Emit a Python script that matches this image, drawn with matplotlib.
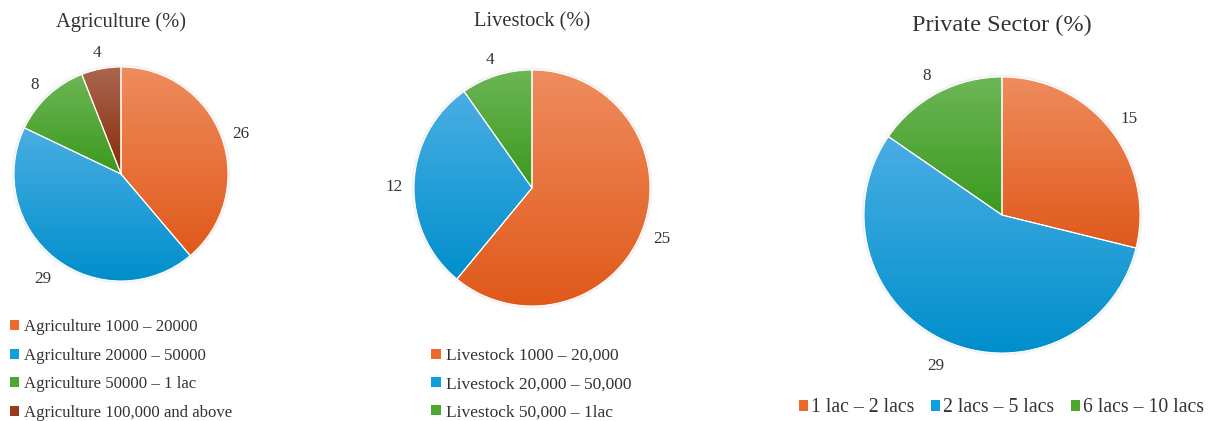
import numpy as np
import matplotlib.pyplot as plt
from matplotlib.patches import Patch, Circle
from matplotlib.colors import LinearSegmentedColormap

plt.rcParams['font.family'] = ['Liberation Serif', 'DejaVu Serif']

W, H, DPI = 1214, 421, 100

# data
agri_labels = ['Agriculture 1000 \u2013 20000', 'Agriculture 20000 \u2013 50000',
               'Agriculture 50000 \u2013 1 lac', 'Agriculture 100,000 and above']
agri_values = [26, 29, 8, 4]

live_labels = ['Livestock 1000 \u2013 20,000', 'Livestock 20,000 \u2013 50,000',
               'Livestock 50,000 \u2013 1lac']
live_values = [25, 12, 4]

priv_labels = ['1 lac \u2013 2 lacs', '2 lacs \u2013 5 lacs', '6 lacs \u2013 10 lacs']
priv_values = [15, 29, 8]

# (top, bottom, legend) shades
ORANGE = ('#EF8C5E', '#E0591A', '#EB6A2C')
BLUE = ('#4AAEE3', '#008FCC', '#0EA0DC')
GREEN = ('#6DB656', '#3B991E', '#4CA82F')
BROWN = ('#AA6650', '#892B05', '#973C18')

TEXT = '#333333'


def pie_axes(fig, cx, cy, r, pad=1.45):
    # square axes centred on (cx, cy) pixels, 1 data unit == r pixels
    s = 2 * r * pad
    ax = fig.add_axes([(cx - s / 2) / W, 1 - (cy + s / 2) / H, s / W, s / H])
    ax.set_axis_off()
    return ax, pad, r


def gradient_pie(ax, pad, r, values, shades, labeldistance):
    # soft shadow ring around the pie
    for i in range(5):
        ax.add_patch(Circle((0, 0), 1.0 + 0.5 * i / r, facecolor='none',
                            edgecolor='#808080', alpha=0.035, lw=1.0, zorder=0))
    wedges, texts = ax.pie(values, labels=[str(v) for v in values], startangle=90,
                           counterclock=False, labeldistance=labeldistance,
                           wedgeprops=dict(edgecolor='white', linewidth=0.8),
                           textprops=dict(fontsize=12.3, color=TEXT))
    for w, (top, bottom, _) in zip(wedges, shades):
        cmap = LinearSegmentedColormap.from_list('g', [top, bottom])
        bb = w.get_path().get_extents()
        grad = np.linspace(0, 1, 256).reshape(-1, 1).repeat(2, axis=1)
        im = ax.imshow(grad, cmap=cmap, extent=(bb.x0, bb.x1, bb.y0, bb.y1),
                       origin='upper', aspect='auto', interpolation='bilinear', zorder=1)
        im.set_clip_path(w)
        w.set_facecolor('none')
        w.set_zorder(2)
    for t in texts:
        x, y = t.get_position()
        t.set_position((x, y - 4 / r))
        t.set_ha('center')
        t.set_va('center')
    ax.set_xlim(-pad, pad)
    ax.set_ylim(-pad, pad)
    ax.set_aspect('equal')


def handles(shades):
    return [Patch(facecolor=s[2], edgecolor='none') for s in shades]


fig = plt.figure(figsize=(W / DPI, H / DPI), dpi=DPI)

# Agriculture
ax, pad, r = pie_axes(fig, 121, 174, 107)
gradient_pie(ax, pad, r, agri_values, [ORANGE, BLUE, GREEN, BROWN], 1.19)
fig.text(121 / W, 1 - 22 / H, 'Agriculture (%)', ha='center', va='center',
         fontsize=14.8, color=TEXT)
fig.legend(handles([ORANGE, BLUE, GREEN, BROWN]), agri_labels, loc='upper left',
           bbox_to_anchor=(10 / W, 1 - 319 / H), frameon=False, fontsize=12.1,
           handlelength=0.55, handleheight=0.55, handletextpad=0.3,
           labelspacing=0.75, borderpad=0, borderaxespad=0, labelcolor=TEXT)

# Livestock
ax, pad, r = pie_axes(fig, 532, 188, 118)
gradient_pie(ax, pad, r, live_values, [ORANGE, BLUE, GREEN], 1.17)
fig.text(532 / W, 1 - 22 / H, 'Livestock (%)', ha='center', va='center',
         fontsize=14.8, color=TEXT)
fig.legend(handles([ORANGE, BLUE, GREEN]), live_labels, loc='upper left',
           bbox_to_anchor=(431 / W, 1 - 348 / H), frameon=False, fontsize=12.5,
           handlelength=0.55, handleheight=0.55, handletextpad=0.3,
           labelspacing=0.7, borderpad=0, borderaxespad=0, labelcolor=TEXT)

# Private sector
ax, pad, r = pie_axes(fig, 1002, 215, 138)
gradient_pie(ax, pad, r, priv_values, [ORANGE, BLUE, GREEN], 1.17)
fig.text(1002 / W, 1 - 25 / H, 'Private Sector (%)', ha='center', va='center',
         fontsize=17.5, color=TEXT)
fig.legend(handles([ORANGE, BLUE, GREEN]), priv_labels, loc='center left', ncol=3,
           bbox_to_anchor=(799 / W, 1 - 408 / H), frameon=False, fontsize=14.2,
           handlelength=0.45, handleheight=0.45, handletextpad=0.15,
           columnspacing=0.85, borderpad=0, borderaxespad=0, labelcolor=TEXT)

fig.savefig('out.png', dpi=DPI)
